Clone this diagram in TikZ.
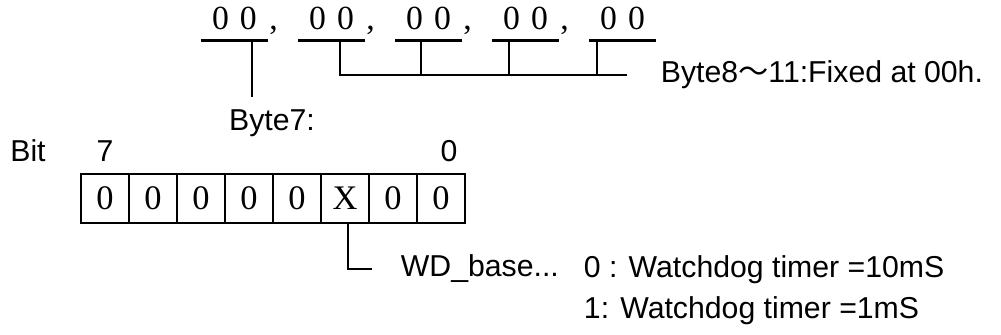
\documentclass[tikz,border=0pt]{standalone}
\usepackage{fontspec}
\setmainfont{Liberation Sans}
\newfontfamily\digitfont{Liberation Serif}
\newfontfamily\cjk{Noto Sans CJK JP}
\tikzset{
    txt/.style={font=\fontsize{8.6}{10}\selectfont,anchor=base west},
    grp/.style={font=\digitfont\fontsize{9.6}{11}\selectfont,anchor=base,inner xsep=0,inner ysep=0.09cm,minimum width=0.65cm},
    cell/.style={draw,font=\digitfont\fontsize{9.8}{11}\selectfont,minimum width=0.48cm,minimum height=0.49cm,inner sep=0}
}
\begin{document}
\begin{tikzpicture}[line width=0.7pt]
        \useasboundingbox (0,0) rectangle (10.01,3.35);
        %% Bytes 7 to 11
        \foreach \i in {1,...,5}
            \node[grp] (g\i) at ({2.345+0.97*(\i-1)},3.05) {0\hspace{0.11cm}0\hspace{0.07cm}};
        \foreach \i in {1,...,4}
            \node[grp,anchor=base west,minimum width=0,inner ysep=0] (k\i) at (g\i.base east) {,};
        \foreach \i in {1,...,5}
            \draw (g\i.south west) -- (g\i.south east);
        %% Byte7
        \node[txt,anchor=base] (b7) at (2.72,2.04) {Byte7:};
        \coordinate (t1) at ([xshift=0.175cm]g1.south);
        \draw (t1) -- (t1 |- b7.north);
        %% Byte8 to 11
        \node[txt] (fx) at (6.48,2.52) {Byte8{\cjk ～}11:Fixed at 00h.};
        \foreach \g/\s in {g2/0.085,g3/-0.075,g4/-0.165,g5/-0.255}
            \draw ([xshift=\s cm]\g.south) |- ([xshift=-0.21cm]fx.west);
        %% Bit field
        \node[txt,anchor=base] (bit) at (0.28,1.73) {Bit};
        \node[txt,anchor=base] (msb) at (1.05,1.73) {7};
        \node[txt,anchor=base] (lsb) at (4.49,1.73) {0};
        \foreach \b/\v in {7/0,6/0,5/0,4/0,3/0,2/X,1/0,0/0}
            \node[cell] (c\b) at ({1.05+0.48*(7-\b)},1.365) {\v};
        %% WD_base
        \node[txt] (wd) at (3.88,0.58) {WD\_base...};
        \draw ([xshift=0.03cm]c2.south) |- ([xshift=-0.16cm]wd.west);
        \node[txt] (w0) at (5.71,0.57) {0 : Watchdog timer =10mS};
        \node[txt] (w1) at (5.71,0.16) {1: Watchdog timer =1mS};
    \end{tikzpicture}
\end{document}
